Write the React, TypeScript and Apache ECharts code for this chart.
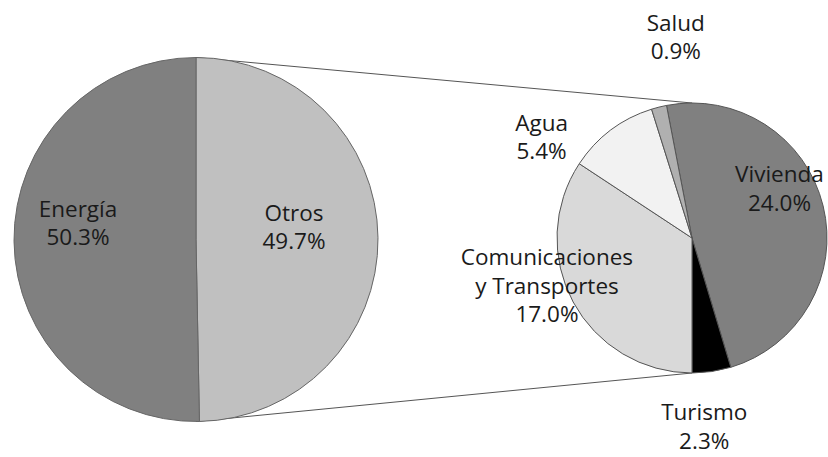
import React, { useEffect, useRef } from "react";
import * as echarts from "echarts";

// ---- data ----
const mainNames = ["Otros", "Energía"];
const mainValues = [49.7, 50.3];
const subNames = ["Vivienda", "Turismo", "Comunicaciones\ny Transportes", "Agua", "Salud"];
const subValues = [24.0, 2.3, 17.0, 5.4, 0.9];

// ---- styling / layout ----
const mainColors = ["#c0c0c0", "#808080"];
const subColors = ["#808080", "#000000", "#d9d9d9", "#f2f2f2", "#b0b0b0"];
const mainCenter = [196, 239.5];
const mainRadius = 182;
const subCenter = [692, 238];
const subRadius = 135;
const mainLabelOffsets = [[4, -12], [-24, -18]];
const subLabelOffsets = [[19, -33], [2, 118], [-83, 14], [-108, -45], [1, -133]];

const FONT = "'Open Sans', 'DejaVu Sans', sans-serif";

export default function App() {
  const ref = useRef<HTMLDivElement>(null);
  useEffect(() => {
    document.body.style.margin = "0";
    if (!ref.current) return;
    const chart = echarts.init(ref.current, undefined, { renderer: "svg" });
    const subSum = subValues.reduce((a, b) => a + b, 0);
    // secondary pie: split between Turismo and Comunicaciones lies at the bottom
    const subStart = 90 + (((subValues[0] + subValues[1]) / subSum) * 360 - 180);
    const labelStyle = {
      show: true,
      position: "inside",
      color: "#1a1a1a",
      fontFamily: FONT,
      fontSize: 22.5,
      lineHeight: 28.5,
      align: "center",
      formatter: (p: any) => `${p.name}\n${Number(p.value).toFixed(1)}%`,
    };
    chart.setOption({
      animation: false,
      backgroundColor: "#ffffff",
      graphic: [
        {
          type: "line",
          z: 0,
          shape: {
            x1: mainCenter[0], y1: mainCenter[1] - mainRadius,
            x2: subCenter[0], y2: subCenter[1] - subRadius,
          },
          style: { stroke: "#555555", lineWidth: 1 },
        },
        {
          type: "line",
          z: 0,
          shape: {
            x1: mainCenter[0], y1: mainCenter[1] + mainRadius,
            x2: subCenter[0], y2: subCenter[1] + subRadius,
          },
          style: { stroke: "#555555", lineWidth: 1 },
        },
      ],
      series: [
        {
          type: "pie",
          center: mainCenter,
          radius: mainRadius,
          startAngle: 90,
          clockwise: true,
          avoidLabelOverlap: false,
          label: labelStyle,
          labelLine: { show: false },
          labelLayout: (p: any) => ({
            dx: mainLabelOffsets[p.dataIndex][0],
            dy: mainLabelOffsets[p.dataIndex][1],
          }),
          itemStyle: { borderColor: "#666666", borderWidth: 1 },
          emphasis: { disabled: true },
          data: mainNames.map((n, i) => ({
            name: n,
            value: mainValues[i],
            itemStyle: { color: mainColors[i] },
          })),
        },
        {
          type: "pie",
          center: subCenter,
          radius: subRadius,
          startAngle: subStart,
          clockwise: true,
          avoidLabelOverlap: false,
          label: labelStyle,
          labelLine: { show: false },
          labelLayout: (p: any) => ({
            dx: subLabelOffsets[p.dataIndex][0],
            dy: subLabelOffsets[p.dataIndex][1],
          }),
          itemStyle: { borderColor: "#555555", borderWidth: 1 },
          emphasis: { disabled: true },
          data: subNames.map((n, i) => ({
            name: n,
            value: subValues[i],
            itemStyle: { color: subColors[i] },
          })),
        },
      ],
    });
    return () => chart.dispose();
  }, []);
  return <div ref={ref} style={{ width: 828, height: 457 }} />;
}
